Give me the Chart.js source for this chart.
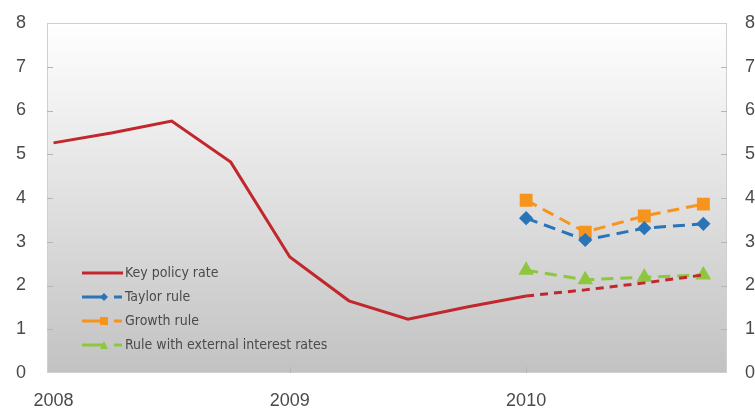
<!DOCTYPE html>
<html>
<head>
<meta charset="utf-8">
<script src="https://cdn.jsdelivr.net/npm/chart.js@4.4.1/dist/chart.umd.min.js"></script>
<style>
  html, body { margin: 0; padding: 0; background: #fff; }
</style>
</head>
<body>
<canvas id="rateChart" width="755" height="410"></canvas>
<script>
// quarters since 2008Q1
const quarterIdx = [0, 1, 2, 3, 4, 5, 6, 7, 8, 9, 10, 11];
const yearTicks = [0, 4, 8];
const yearLabels = ['2008', '2009', '2010'];

// key policy rate (actual), 2008Q1 - 2010Q1
const keyRate = [5.26, 5.49, 5.76, 4.82, 2.65, 1.65, 1.23, 1.51, 1.76];
// key policy rate (projection), 2010Q1 - 2010Q4
const keyRateFcst = [1.76, 1.90, 2.06, 2.24];
const taylorRule = [3.54, 3.04, 3.31, 3.41];
const growthRule = [3.95, 3.22, 3.59, 3.86];
const externalRule = [2.35, 2.13, 2.19, 2.24];

const legendLabels = ['Key policy rate', 'Taylor rule', 'Growth rule', 'Rule with external interest rates'];

const RED = '#c1272d';
const BLUE = '#2a74b8';
const ORANGE = '#f7941d';
const GREEN = '#8dc63f';
const tickFont = { family: '"Liberation Sans", Arial, sans-serif', size: 18 };

// attach x positions to a series starting at a given quarter
function pts(values, start) {
  return values.map((v, i) => ({ x: quarterIdx[start + i], y: v }));
}

// plot background, frame and little inner tick marks
const plotBackground = {
  id: 'plotBackground',
  beforeDraw(chart) {
    const { ctx, chartArea: a, scales } = chart;
    ctx.save();
    const g = ctx.createLinearGradient(0, a.top, 0, a.bottom);
    g.addColorStop(0, '#ffffff');
    g.addColorStop(1, '#c2c2c2');
    ctx.fillStyle = g;
    ctx.fillRect(a.left, a.top, a.right - a.left, a.bottom - a.top);
    ctx.strokeStyle = '#cfcfcf';
    ctx.lineWidth = 1;
    ctx.strokeRect(a.left + 0.5, a.top + 0.5, a.right - a.left - 1, a.bottom - a.top - 1);

    ctx.strokeStyle = '#b5b5b5';
    for (let v = 1; v < 8; v++) {
      const y = Math.round(scales.y.getPixelForValue(v)) + 0.5;
      ctx.beginPath();
      ctx.moveTo(a.left, y); ctx.lineTo(a.left + 6, y);
      ctx.moveTo(a.right, y); ctx.lineTo(a.right - 6, y);
      ctx.stroke();
    }
    yearTicks.slice(1).forEach(t => {
      const x = Math.round(scales.x.getPixelForValue(t)) + 0.5;
      ctx.beginPath();
      ctx.moveTo(x, a.bottom); ctx.lineTo(x, a.bottom - 6);
      ctx.stroke();
    });
    ctx.restore();
  }
};

// legend drawn inside the plot, bottom left
const insideLegend = {
  id: 'insideLegend',
  afterDatasetsDraw(chart) {
    const { ctx } = chart;
    const rows = [273, 297, 321, 345];
    const colors = [RED, BLUE, ORANGE, GREEN];
    const marks = ['none', 'diamond', 'square', 'triangle'];
    ctx.save();
    ctx.lineWidth = 3;
    rows.forEach((y, i) => {
      ctx.strokeStyle = colors[i];
      ctx.fillStyle = colors[i];
      ctx.beginPath();
      if (i === 0) {
        ctx.moveTo(82, y); ctx.lineTo(123, y);
      } else {
        ctx.moveTo(82, y); ctx.lineTo(104, y);
        ctx.moveTo(114, y); ctx.lineTo(122, y);
      }
      ctx.stroke();
      const mx = 104;
      ctx.beginPath();
      if (marks[i] === 'diamond') {
        ctx.moveTo(mx - 4, y); ctx.lineTo(mx, y - 4); ctx.lineTo(mx + 4, y); ctx.lineTo(mx, y + 4);
      } else if (marks[i] === 'square') {
        ctx.rect(mx - 4, y - 4, 8, 8);
      } else if (marks[i] === 'triangle') {
        ctx.moveTo(mx - 4, y + 4); ctx.lineTo(mx, y - 4); ctx.lineTo(mx + 4, y + 4);
      }
      ctx.closePath();
      if (marks[i] !== 'none') ctx.fill();

      ctx.fillStyle = '#4a4a4a';
      ctx.font = '14px "Liberation Sans Narrow", "DejaVu Sans Condensed", sans-serif';
      ctx.textBaseline = 'middle';
      ctx.fillText(legendLabels[i], 125, y);
    });
    ctx.restore();
  }
};

const yAxis = (pos, pad, w) => ({
  position: pos,
  min: 0,
  max: 8,
  grid: { display: false },
  border: { display: false },
  ticks: { stepSize: 1, color: '#4a4a4a', font: tickFont, padding: pad },
  afterFit: s => {
    s.width = w;
    // keep the label padding from pushing the plot down
    s.paddingTop = 0;
    s.paddingBottom = 0;
  }
});

new Chart(document.getElementById('rateChart'), {
  type: 'line',
  data: {
    datasets: [
      { label: legendLabels[0], data: pts(keyRate, 0), borderColor: RED, borderWidth: 3, pointRadius: 0, tension: 0 },
      { label: 'Key policy rate (projection)', data: pts(keyRateFcst, 8), borderColor: RED, borderWidth: 3, borderDash: [8, 6], pointRadius: 0 },
      { label: legendLabels[3], data: pts(externalRule, 8), borderColor: GREEN, backgroundColor: GREEN, borderWidth: 3, borderDash: [12, 7], pointStyle: 'triangle', pointRadius: 6 },
      { label: legendLabels[1], data: pts(taylorRule, 8), borderColor: BLUE, backgroundColor: BLUE, borderWidth: 3, borderDash: [12, 7], pointStyle: 'rectRot', pointRadius: 5 },
      { label: legendLabels[2], data: pts(growthRule, 8), borderColor: ORANGE, backgroundColor: ORANGE, borderWidth: 3, borderDash: [12, 7], pointStyle: 'rect', pointRadius: 7 }
    ]
  },
  options: {
    responsive: false,
    animation: false,
    devicePixelRatio: 1,
    layout: { padding: { top: 23, left: 0, right: 0, bottom: 0 } },
    plugins: { legend: { display: false }, tooltip: { enabled: false } },
    scales: {
      x: {
        type: 'linear',
        min: -0.11,
        max: 11.4,
        grid: { display: false },
        border: { display: false },
        afterBuildTicks: s => { s.ticks = yearTicks.map(v => ({ value: v })); },
        ticks: {
          color: '#4a4a4a',
          font: tickFont,
          padding: 9,
          maxRotation: 0,
          autoSkip: false,
          callback: v => yearLabels[yearTicks.indexOf(v)]
        },
        afterFit: s => { s.height = 37; }
      },
      y: yAxis('left', 13, 47),
      y2: yAxis('right', 10, 28)
    }
  },
  plugins: [plotBackground, insideLegend]
});
</script>
</body>
</html>
